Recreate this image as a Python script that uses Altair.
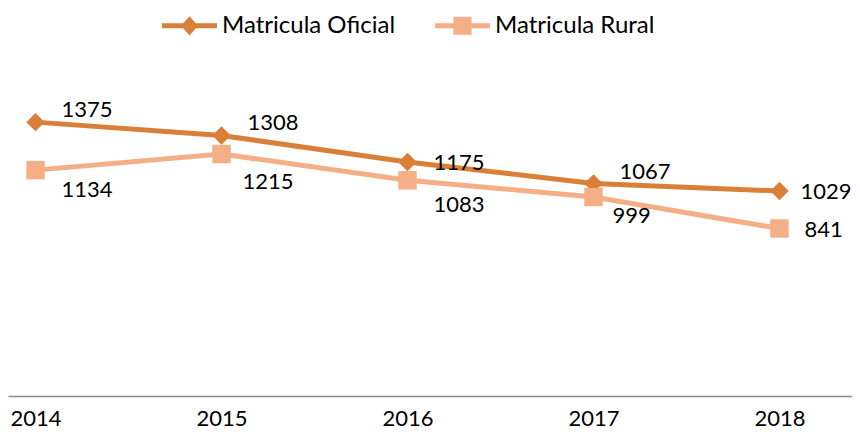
import altair as alt
import pandas as pd

# ---- data ----
years = [2014, 2015, 2016, 2017, 2018]
oficial = [1375, 1308, 1175, 1067, 1029]
rural = [1134, 1215, 1083, 999, 841]
series_names = ["Matricula Oficial", "Matricula Rural"]

rows = []
for name, vals in zip(series_names, [oficial, rural]):
    for yr, v in zip(years, vals):
        rows.append({"year": yr, "series": name, "value": v})
df = pd.DataFrame(rows)

# ---- styles ----
DARK = "#DA7F37"
LIGHT = "#F5AF86"
FONT = "Lato"

# label offsets in pixels (style only): (series, year) -> (dx, dy)
LABEL_OFFSETS = {
    ("Matricula Oficial", 2014): (26, -12),
    ("Matricula Oficial", 2015): (26, -12),
    ("Matricula Oficial", 2016): (26, 1),
    ("Matricula Oficial", 2017): (26, -11),
    ("Matricula Oficial", 2018): (21, 1),
    ("Matricula Rural", 2014): (26, 20),
    ("Matricula Rural", 2015): (21, 28),
    ("Matricula Rural", 2016): (26, 25),
    ("Matricula Rural", 2017): (19, 19),
    ("Matricula Rural", 2018): (25, 2),
}

PATH_OFICIAL = ("M-1,-0.09L-0.23,-0.09L0,-0.35L0.23,-0.09L1,-0.09L1,0.09"
                "L0.23,0.09L0,0.35L-0.23,0.09L-1,0.09Z")
PATH_RURAL = ("M-1,-0.09L-0.33,-0.09L-0.33,-0.33L0.33,-0.33L0.33,-0.09L1,-0.09"
              "L1,0.09L0.33,0.09L0.33,0.33L-0.33,0.33L-0.33,0.09L-1,0.09Z")

x_enc = alt.X(
    "year:Q",
    scale=alt.Scale(domain=[2013.852, 2018.39], nice=False, zero=False),
    axis=alt.Axis(
        values=years, format="d", title=None, grid=False, ticks=False, tickSize=0,
        domainColor="#898989", domainWidth=1.5,
        labelFont=FONT, labelFontSize=22, labelColor="#000000",
        labelBaseline="alphabetic", labelPadding=29, labelFlush=False,
        labelOverlap=False,
    ),
)
y_enc = alt.Y("value:Q", scale=alt.Scale(domain=[0, 1948], nice=False), axis=None)

base = alt.Chart(df)

lines = base.mark_line(strokeWidth=5).encode(
    x=x_enc, y=y_enc,
    color=alt.Color("series:N", scale=alt.Scale(domain=series_names, range=[DARK, LIGHT]), legend=None),
)

points = base.mark_point(filled=True, size=340, opacity=1).encode(
    x=x_enc, y=y_enc,
    color=alt.Color("series:N", scale=alt.Scale(domain=series_names, range=[DARK, LIGHT]), legend=None),
    shape=alt.Shape("series:N", scale=alt.Scale(domain=series_names, range=["diamond", "square"]), legend=None),
)

label_layers = []
for (name, yr), (dx, dy) in LABEL_OFFSETS.items():
    label_layers.append(
        base.transform_filter((alt.datum.series == name) & (alt.datum.year == yr))
        .mark_text(align="left", baseline="middle", dx=dx, dy=dy, font=FONT, fontSize=22, color="#000000")
        .encode(x=x_enc, y=y_enc, text=alt.Text("value:Q", format="d"))
    )

legend_props = dict(
    orient="none", legendX=154, legendY=-10, direction="horizontal", title=None,
    labelFont=FONT, labelFontSize=24, labelColor="#000000", labelLimit=0,
    labelOffset=5, columnPadding=39, padding=0, symbolSize=3025,
    symbolStrokeWidth=0, symbolOpacity=1,
)

legend_layer = base.transform_filter("false").mark_point(filled=True, size=3025, opacity=1).encode(
    x=x_enc, y=y_enc,
    color=alt.Color("series:N", scale=alt.Scale(domain=series_names, range=[DARK, LIGHT]),
                    legend=alt.Legend(**legend_props)),
    shape=alt.Shape("series:N", scale=alt.Scale(domain=series_names, range=[PATH_OFICIAL, PATH_RURAL]),
                    legend=alt.Legend(**legend_props)),
)

chart = (
    alt.layer(lines, points, *label_layers, legend_layer)
    .resolve_scale(color="independent", shape="independent")
    .properties(
        width=844, height=388,
        autosize=alt.AutoSizeParams(type="none"),
        padding={"left": 0, "top": 0, "right": 0, "bottom": 34},
        background="white",
    )
    .configure_view(stroke=None)
)

chart.save("out.html", embed_options={"renderer": "svg", "actions": False})
